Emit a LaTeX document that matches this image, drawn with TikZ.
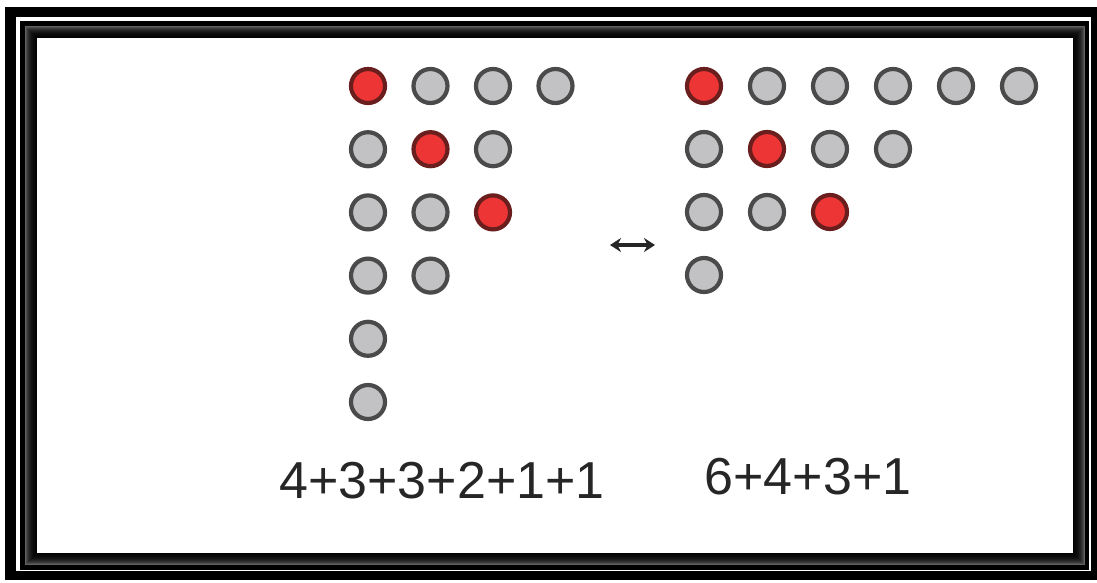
\documentclass[tikz,border=0pt]{standalone}
\usepackage{fontspec}
\setmainfont{Liberation Sans}
\usetikzlibrary{arrows.meta}
\definecolor{dotgray}{HTML}{C2C2C4}
\definecolor{dotred}{HTML}{EE3535}
\definecolor{rimgray}{HTML}{4A4A4A}
\definecolor{rimred}{HTML}{6A1E1E}
\tikzset{
  gdot/.style={circle, minimum size=34pt, inner sep=0pt, fill=dotgray, draw=rimgray, line width=4.2pt},
  rdot/.style={gdot, fill=dotred, draw=rimred},
  sumlabel/.style={font=\fontsize{52}{56}\selectfont, text=black!85, inner sep=0pt}
}
\begin{document}
\begin{tikzpicture}[x=1pt,y=-1pt]
\useasboundingbox (0,0) rectangle (1097,582);
% frame
\fill[white] (0,0) rectangle (1097,582);
\fill[black] (5,7) rectangle (1097,580);
\fill[white] (16,17) rectangle (1091,571);
\fill[black] (20,21) rectangle (1089,570);
\fill[white] (25,26) rectangle (1085,565);
\foreach \i/\c in {0/62,1/70,2/77,3/82,4/86,5/89,6/92,7/94,8/96,9/97,10/98,11/99}{
  \draw[black!\c!white, line width=1pt] (25.5+\i,26.5+\i) rectangle (1084.5-\i,564.5-\i);
}
% left diagram: 4+3+3+2+1+1
\foreach \r/\n in {0/4,1/3,2/3,3/2,4/1,5/1}{
  \foreach \k in {1,...,\n}{
    \pgfmathtruncatemacro{\kk}{\k-1}
    \ifnum\kk=\r
      \node[rdot] (L-\r-\kk) at ({368+62.5*\kk},{86+63.2*\r}) {};
    \else
      \node[gdot] (L-\r-\kk) at ({368+62.5*\kk},{86+63.2*\r}) {};
    \fi
  }
}
% right diagram: 6+4+3+1
\foreach \r/\n in {0/6,1/4,2/3,3/1}{
  \foreach \k in {1,...,\n}{
    \pgfmathtruncatemacro{\kk}{\k-1}
    \ifnum\kk=\r
      \node[rdot] (R-\r-\kk) at ({704+63*\kk},{86+63*\r}) {};
    \else
      \node[gdot] (R-\r-\kk) at ({704+63*\kk},{86+63*\r}) {};
    \fi
  }
}
% double arrow
\coordinate (al) at (610,245);
\coordinate (ar) at (655,245);
\draw[line width=3.2pt, black!85, {Stealth[length=11pt,width=14pt]}-{Stealth[length=11pt,width=14pt]}] (al) -- (ar);
% labels
\node[sumlabel] (sumL) at (442,481) {4+3+3+2+1+1};
\node[sumlabel] (sumR) at (808,477) {6+4+3+1};
\end{tikzpicture}
\end{document}
